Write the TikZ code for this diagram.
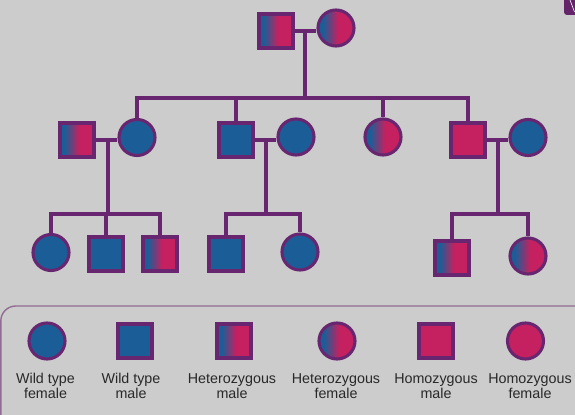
\documentclass[tikz,border=0pt]{standalone}
\usepackage{fontspec}
\setmainfont{Liberation Sans}
\usetikzlibrary{positioning,calc}
\definecolor{wtblue}{RGB}{27,94,151}
\definecolor{hompink}{RGB}{197,32,95}
\definecolor{edgepurple}{RGB}{104,38,112}
\definecolor{bggray}{RGB}{204,204,204}
\definecolor{legendline}{RGB}{146,108,146}
\definecolor{labelgray}{RGB}{40,40,40}
\pgfdeclarehorizontalshading{hetshade}{100bp}{color(0bp)=(wtblue); color(32bp)=(wtblue); color(53bp)=(hompink); color(100bp)=(hompink)}
\tikzset{
  male/.style={rectangle,draw=edgepurple,line width=3.1bp,minimum size=34bp,inner sep=0pt},
  female/.style={circle,draw=edgepurple,line width=3.1bp,minimum size=36bp,inner sep=0pt},
  wt/.style={fill=wtblue},
  hom/.style={fill=hompink},
  het/.style={shading=hetshade},
  kin/.style={draw=edgepurple,line width=3.1bp},
  legendlabel/.style={align=center,text=labelgray,font=\fontsize{14.3bp}{14.5bp}\selectfont},
}
\begin{document}
\begin{tikzpicture}[line join=miter]
\fill[bggray] (0bp,0bp) rectangle (575bp,415bp);
\useasboundingbox (0bp,0bp) rectangle (575bp,415bp);
%%
\filldraw[fill=edgepurple!95!black,draw=none,rounded corners=3bp] (564bp,400bp) rectangle (590bp,425bp);
\draw[white,line width=0.6bp] (570bp,415bp) -- (574.5bp,403bp);
\draw[legendline,line width=1.4bp,rounded corners=15bp] (0.8bp,-20bp) rectangle (600bp,109bp);
%% first generation
\node (m1) at (276bp,384bp) [male,het] {};
  \node (f1) at (336bp,387bp) [female,het] {};
%% second generation
\node (m2) at (77bp,275bp) [male,het] {};
  \node (f2) at (137bp,277.5bp) [female,wt] {};
  \node (m3) at (236bp,275bp) [male,wt] {};
  \node (f3) at (296bp,278bp) [female,wt] {};
  \node (f4) at (383bp,278bp) [female,het] {};
  \node (m5) at (468bp,275bp) [male,hom] {};
  \node (f5) at (528bp,277.5bp) [female,wt] {};
%% third generation
\node (a1) at (51bp,162.5bp) [female,wt] {};
  \node (a2) at (106bp,161bp) [male,wt] {};
  \node (a3) at (160bp,161bp) [male,het] {};
  \node (b1) at (226bp,161bp) [male,wt] {};
  \node (b2) at (300bp,163bp) [female,wt] {};
  \node (d1) at (452bp,157bp) [male,het] {};
  \node (d2) at (528bp,159bp) [female,het] {};
%% connectors
\coordinate (c1) at (305bp,317bp);
  \coordinate (c2) at (108bp,201bp);
  \coordinate (c3) at (266bp,201bp);
  \coordinate (c4) at (498bp,201bp);
  \draw [kin] (m1.east) -- (m1.east -| f1.west);
  \draw [kin] (c1 |- m1.east) -- (c1);
  \draw [kin] (f2) -- (f2 |- c1) -- (m5 |- c1) -- (m5);
  \draw [kin] (m3) -- (m3 |- c1);
  \draw [kin] (f4) -- (f4 |- c1);
  \draw [kin] (m2.east) -- (m2.east -| f2.west);
  \draw [kin] (m3.east) -- (m3.east -| f3.west);
  \draw [kin] (m5.east) -- (m5.east -| f5.west);
  \draw [kin] (c2 |- m2.east) -- (c2);
  \draw [kin] (c3 |- m3.east) -- (c3);
  \draw [kin] (c4 |- m5.east) -- (c4);
  \draw [kin] (a1) -- (a1 |- c2) -- (a3 |- c2) -- (a3);
  \draw [kin] (a2) -- (a2 |- c2);
  \draw [kin] (b1) -- (b1 |- c3) -- (b2 |- c3) -- (b2);
  \draw [kin] (d1) -- (d1 |- c4) -- (d2 |- c4) -- (d2);
%% legend
\node (l1) at (47bp,74bp) [female,wt] {};
  \node (l2) at (135bp,74bp) [male,wt] {};
  \node (l3) at (234bp,74bp) [male,het] {};
  \node (l4) at (337bp,74bp) [female,het] {};
  \node (l5) at (436bp,74bp) [male,hom] {};
  \node (l6) at (525.5bp,74bp) [female,hom] {};
  \node (t1) at (45.5bp,29bp) [legendlabel] {Wild type\\female};
  \node (t2) at (131bp,29bp) [legendlabel] {Wild type\\male};
  \node (t3) at (232bp,29bp) [legendlabel] {Heterozygous\\male};
  \node (t4) at (336bp,29bp) [legendlabel] {Heterozygous\\female};
  \node (t5) at (436bp,29bp) [legendlabel] {Homozygous\\male};
  \node (t6) at (530bp,29bp) [legendlabel] {Homozygous\\female};
%
\end{tikzpicture}
\end{document}
